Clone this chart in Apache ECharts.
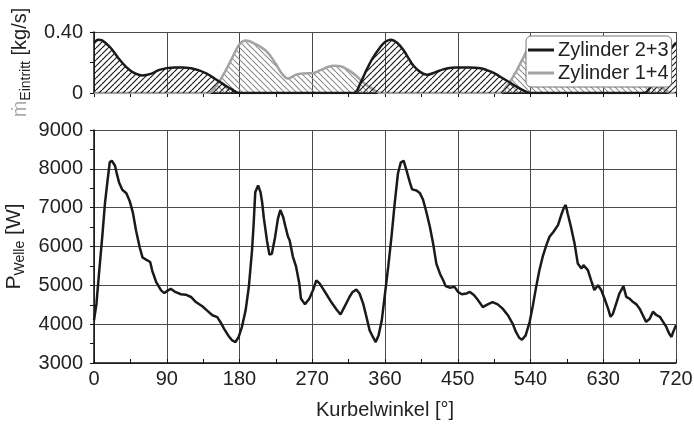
<!DOCTYPE html>
<html>
<head>
<meta charset="utf-8">
<script src="https://cdn.jsdelivr.net/npm/echarts@6/dist/echarts.min.js"></script>
<style>
  html, body { margin: 0; padding: 0; background: #fff; }
  #chart { width: 694px; height: 424px; }
</style>
</head>
<body>
<div id="chart"></div>
<script>
// Mass flow into the manifold, cylinders 2+3 (crank angle in degrees, kg/s)
const flow23Angle = [0, 5, 10, 20, 30, 40, 50, 60, 70, 80, 90, 100, 110, 120, 130, 140, 150, 160, 170, 180,
  321, 330, 337, 345, 354, 360, 367, 375, 383, 390, 395, 403, 412, 422, 432, 442, 450, 465, 478, 486, 495, 503, 511, 520, 530, 540,
  680, 690, 700, 710, 720];
const flow23Value = [0.33, 0.35, 0.345, 0.30, 0.23, 0.17, 0.13, 0.115, 0.125, 0.15, 0.163, 0.168, 0.168, 0.162, 0.148, 0.125, 0.092, 0.058, 0.025, 0,
  0, 0.07, 0.15, 0.23, 0.30, 0.335, 0.35, 0.33, 0.28, 0.22, 0.18, 0.14, 0.12, 0.135, 0.155, 0.165, 0.167, 0.168, 0.163, 0.15, 0.13, 0.105, 0.08, 0.05, 0.02, 0,
  0, 0.05, 0.15, 0.26, 0.33];

// Mass flow into the manifold, cylinders 1+4
const flow14Angle = [0, 141, 150, 160, 170, 180, 188, 200, 214, 225, 232, 240, 250, 260, 270, 280, 290, 298, 305, 315, 325, 335, 345, 355,
  502, 510, 520, 530, 540, 548, 560, 574, 585, 592, 600, 610, 620, 630, 640, 650, 658, 665, 675, 685, 695, 705, 715, 720];
const flow14Value = [0, 0, 0.04, 0.12, 0.22, 0.32, 0.345, 0.32, 0.27, 0.19, 0.13, 0.095, 0.12, 0.128, 0.13, 0.15, 0.172, 0.178, 0.175, 0.15, 0.11, 0.06, 0.025, 0,
  0, 0.04, 0.12, 0.22, 0.32, 0.345, 0.32, 0.27, 0.19, 0.13, 0.095, 0.12, 0.128, 0.13, 0.15, 0.172, 0.178, 0.175, 0.15, 0.11, 0.06, 0.025, 0, 0];

// Shaft power over two crankshaft revolutions (degrees, W)
const powerAngle = [0, 3, 6.5, 10.5, 13.5, 16.5, 19.5, 22, 24, 26, 28.5, 31, 35, 40, 44, 48, 52, 56.5, 60, 64.5, 69.5, 72, 77, 83, 87, 90,
  95, 100.5, 107.5, 113.5, 120, 126, 134, 140, 146.5, 152.5, 156.5, 161, 166, 171, 175, 179, 183, 187.5, 191.5, 195.5, 197.5, 199.5,
  203, 206, 208, 210, 214, 217, 220, 224, 227.5, 230.5, 234, 237, 240, 242, 246, 250, 254, 256, 261, 266.5, 271, 275, 279, 283, 287,
  293.5, 300, 305, 310, 316, 320, 324.5, 328.5, 333, 337, 341, 345, 348.5, 352, 356, 359.5, 364, 368, 372, 376, 379.5, 383, 386.5,
  390.5, 393.5, 399, 403, 407, 411, 415.5, 419.5, 423.5, 428, 432, 435, 440, 446, 450.5, 455, 461, 465, 470, 475, 481, 487, 493,
  499.5, 505.5, 512, 518, 522, 526, 529.5, 534, 539, 543, 547, 551, 555, 559.5, 563.5, 568.5, 574, 578, 581, 583.5, 586, 590, 594.5,
  598.5, 603, 605.5, 611, 615, 619, 623.5, 627.5, 631.5, 636, 639, 642, 646, 650, 655, 658.5, 662.5, 667, 671, 675, 679, 683, 687.5,
  691.5, 696, 700, 704, 708, 711.5, 714.5, 716.5, 720];
const powerValue = [4100, 4520, 5380, 6320, 7100, 7650, 8170, 8210, 8190, 8080, 7850, 7650, 7460, 7370, 7180, 6880, 6410, 5980, 5720, 5660, 5600, 5380, 5080, 4870, 4800, 4850,
  4910, 4830, 4770, 4760, 4700, 4570, 4460, 4350, 4230, 4180, 4050, 3880, 3710, 3580, 3540, 3670, 3930, 4350, 4950, 5900, 6580, 7400,
  7570, 7400, 7140, 6750, 6150, 5790, 5810, 6240, 6710, 6940, 6760, 6500, 6250, 6160, 5740, 5480, 5050, 4660, 4510, 4660, 4880, 5130, 5050, 4920, 4790,
  4570, 4380, 4250, 4450, 4700, 4830, 4890, 4790, 4530, 4190, 3840, 3670, 3540, 3710, 4100, 4700, 5480, 6250, 7110, 7880, 8160, 8210, 7970,
  7670, 7470, 7440, 7380, 7210, 6900, 6510, 6080, 5560, 5300, 5130, 4980, 4940, 4960, 4830, 4770, 4790, 4830, 4750, 4620, 4440, 4510, 4570,
  4510, 4400, 4230, 4010, 3800, 3650, 3600, 3710, 4060, 4490, 4960, 5390, 5730, 6030, 6250, 6380, 6550, 6810, 6980, 7070, 6850, 6510, 6080,
  5560, 5430, 5520, 5390, 5130, 4880, 5000, 4880, 4660, 4400, 4190, 4270, 4530, 4790, 4980, 4700, 4660, 4570, 4510, 4400, 4230, 4060, 4140,
  4320, 4230, 4190, 4060, 3930, 3760, 3670, 3800, 3970];

const seriesNames = ['Zylinder 2+3', 'Zylinder 1+4'];

function pairs(xs, ys) { return xs.map((x, i) => [x, ys[i]]); }

// Diagonal hatch tile used as a repeating fill pattern
function hatch(color, rising, width) {
  const s = 6;
  const c = document.createElement('canvas');
  c.width = s; c.height = s;
  const g = c.getContext('2d');
  g.strokeStyle = color;
  g.lineWidth = width;
  g.beginPath();
  for (const k of [-s, 0, s]) {
    if (rising) { g.moveTo(k, s); g.lineTo(k + s, 0); }
    else { g.moveTo(k, 0); g.lineTo(k + s, s); }
  }
  g.stroke();
  return { image: c, repeat: 'repeat' };
}

const font = 'Liberation Sans, Arial, Helvetica, sans-serif';
const gridLine = { show: true, lineStyle: { color: '#4a4a4a', width: 1 } };
const axisLine = { show: true, onZero: false, lineStyle: { color: '#111', width: 1.5 } };
const tickStyle = { color: '#111', width: 1 };

const chart = echarts.init(document.getElementById('chart'), null, { renderer: 'canvas' });

chart.setOption({
  animation: false,
  backgroundColor: '#fff',
  textStyle: { fontFamily: font },
  grid: [
    { left: 94, right: 18, top: 32, height: 61, containLabel: false, outerBoundsMode: 'none' },
    { left: 94, right: 18, top: 130, height: 233, containLabel: false, outerBoundsMode: 'none' }
  ],
  legend: {
    data: seriesNames,
    orient: 'vertical',
    left: 526,
    top: 36,
    backgroundColor: '#fff',
    borderColor: '#777',
    borderWidth: 1,
    borderRadius: 5,
    padding: [4, 3, 4, 2],
    itemGap: 3,
    itemWidth: 26,
    itemHeight: 3,
    icon: 'rect',
    textStyle: { fontFamily: font, fontSize: 20, color: '#222', padding: [0, 0, 0, -1] }
  },
  xAxis: [
    {
      gridIndex: 0, type: 'value', min: 0, max: 720, interval: 90,
      axisLabel: { show: false },
      axisLine: axisLine,
      axisTick: { show: true, length: 4, lineStyle: tickStyle },
      minorTick: { show: true, splitNumber: 2, length: 4, lineStyle: tickStyle },
      splitLine: gridLine
    },
    {
      gridIndex: 1, type: 'value', min: 0, max: 720, interval: 90,
      axisLabel: { fontFamily: font, fontSize: 20, color: '#222', margin: 6 },
      axisLine: axisLine,
      axisTick: { show: true, inside: true, length: 4, lineStyle: tickStyle },
      minorTick: { show: true, splitNumber: 2, length: 4, lineStyle: tickStyle },
      splitLine: gridLine,
      name: 'Kurbelwinkel [°]',
      nameLocation: 'middle',
      nameGap: 37,
      nameTextStyle: { fontFamily: font, fontSize: 20, color: '#222' }
    }
  ],
  yAxis: [
    {
      gridIndex: 0, type: 'value', min: 0, max: 0.4, interval: 0.4,
      axisLabel: {
        fontFamily: font, fontSize: 20, color: '#222', margin: 11,
        formatter: v => (v === 0 ? '0' : v.toFixed(2))
      },
      axisLine: axisLine,
      axisTick: { show: true, length: 4, lineStyle: tickStyle },
      minorTick: { show: true, splitNumber: 2, length: 4, lineStyle: tickStyle },
      splitLine: gridLine,
      name: '{g|ṁ}{s|Eintritt}{m| [kg/s]}',
      nameLocation: 'middle',
      nameRotate: 90,
      nameGap: 60,
      nameTextStyle: {
        rich: {
          g: { fontFamily: font, fontSize: 20, color: '#aaa', lineHeight: 26, verticalAlign: 'middle' },
          m: { fontFamily: font, fontSize: 20, color: '#222', lineHeight: 26, verticalAlign: 'middle' },
          s: { fontFamily: font, fontSize: 14, color: '#222', lineHeight: 14, verticalAlign: 'bottom' }
        }
      }
    },
    {
      gridIndex: 1, type: 'value', min: 3000, max: 9000, interval: 1000,
      axisLabel: { fontFamily: font, fontSize: 20, color: '#222', margin: 11, formatter: v => String(v) },
      axisLine: axisLine,
      axisTick: { show: true, length: 4, lineStyle: tickStyle },
      minorTick: { show: true, splitNumber: 2, length: 4, lineStyle: tickStyle },
      splitLine: gridLine,
      name: '{m|P}{s|Welle}{m| [W]}',
      nameLocation: 'middle',
      nameRotate: 90,
      nameGap: 60,
      nameTextStyle: {
        rich: {
          m: { fontFamily: font, fontSize: 21, color: '#222', lineHeight: 26, verticalAlign: 'middle' },
          s: { fontFamily: font, fontSize: 14, color: '#222', lineHeight: 14, verticalAlign: 'bottom' }
        }
      }
    }
  ],
  series: [
    {
      name: seriesNames[1],
      type: 'line',
      xAxisIndex: 0, yAxisIndex: 0,
      data: pairs(flow14Angle, flow14Value),
      smooth: 0.35,
      symbol: 'none',
      color: '#a3a3a3',
      lineStyle: { color: '#a3a3a3', width: 2.5 },
      areaStyle: { color: hatch('#8a8a8a', false, 1.1), opacity: 1, origin: 'start' },
      z: 2
    },
    {
      name: seriesNames[0],
      type: 'line',
      xAxisIndex: 0, yAxisIndex: 0,
      data: pairs(flow23Angle, flow23Value),
      smooth: 0.35,
      symbol: 'none',
      color: '#1a1a1a',
      lineStyle: { color: '#1a1a1a', width: 2.5 },
      areaStyle: { color: hatch('#1a1a1a', true, 1.2), opacity: 1, origin: 'start' },
      z: 3
    },
    {
      name: 'P Welle',
      type: 'line',
      xAxisIndex: 1, yAxisIndex: 1,
      data: pairs(powerAngle, powerValue),
      symbol: 'none',
      color: '#1a1a1a',
      lineStyle: { color: '#1a1a1a', width: 2.5 },
      z: 3
    }
  ]
});
</script>
</body>
</html>
